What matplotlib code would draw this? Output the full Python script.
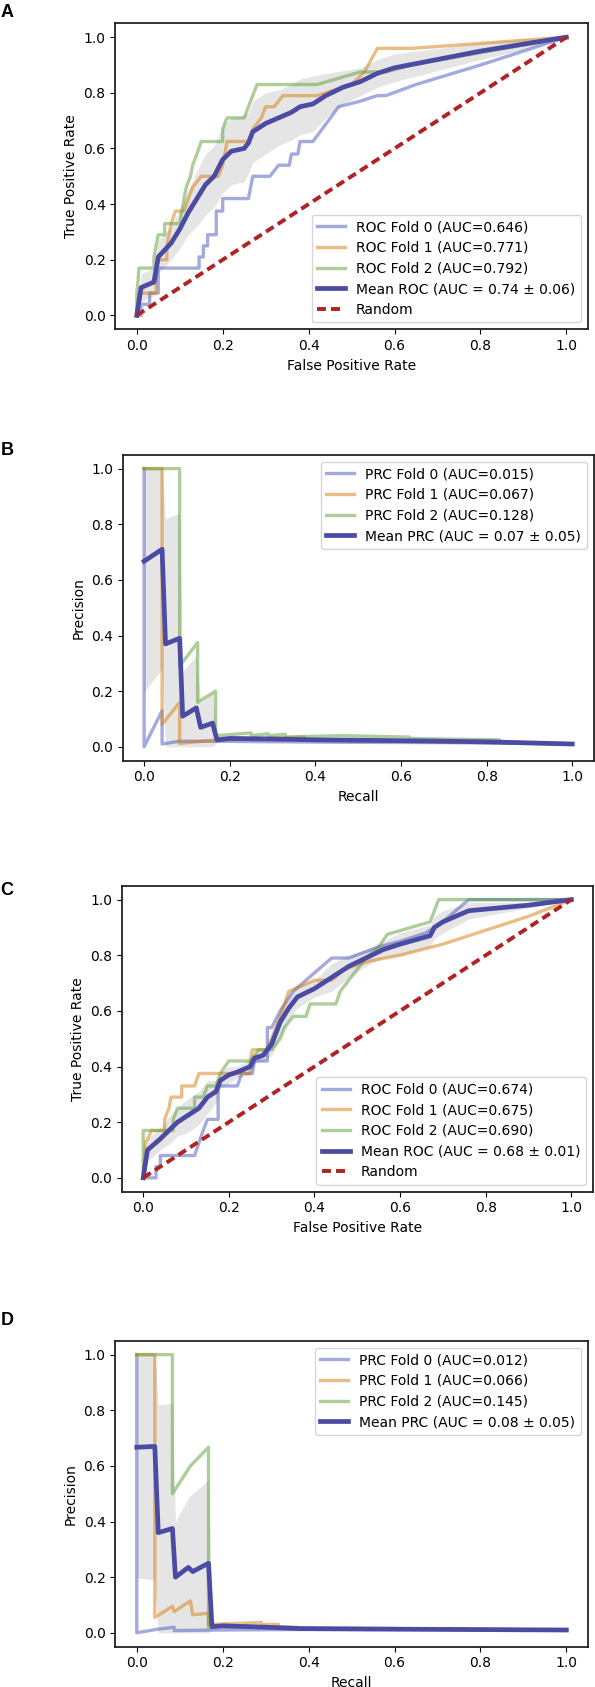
#!/usr/bin/env python3
"""ROC / PRC cross-validation curves, panels A-D."""
import matplotlib
matplotlib.use('Agg')
import matplotlib.pyplot as plt
import numpy as np

W, H = 595, 1687

FOLD_COLORS = ['#4959bf', '#d97d0f', '#5d9f37']
MEAN_COLOR = '#4b4ba3'
RANDOM_COLOR = '#b22222'

# ---- Panel A: ROC, dataset 1 ----
a_fold0 = [(0, 0), (0.01, 0), (0.01, 0.04), (0.03, 0.04), (0.03, 0.08), (0.05, 0.08), (0.05, 0.17),
           (0.145, 0.17), (0.145, 0.21), (0.155, 0.21), (0.155, 0.25), (0.165, 0.25), (0.165, 0.29),
           (0.185, 0.29), (0.185, 0.375), (0.2, 0.375), (0.2, 0.42), (0.26, 0.42), (0.27, 0.5),
           (0.31, 0.5), (0.33, 0.54), (0.355, 0.54), (0.36, 0.58), (0.375, 0.58), (0.38, 0.625),
           (0.41, 0.625), (0.47, 0.75), (0.52, 0.77), (0.56, 0.79), (0.58, 0.79), (0.65, 0.83),
           (0.8, 0.9), (1, 1)]
a_fold1 = [(0, 0), (0.005, 0.08), (0.045, 0.08), (0.045, 0.17), (0.05, 0.2), (0.07, 0.2), (0.07, 0.25),
           (0.075, 0.29), (0.08, 0.33), (0.09, 0.375), (0.11, 0.375), (0.12, 0.42), (0.13, 0.46),
           (0.15, 0.5), (0.19, 0.5), (0.2, 0.54), (0.205, 0.58), (0.21, 0.625), (0.26, 0.625),
           (0.27, 0.67), (0.29, 0.71), (0.3, 0.75), (0.32, 0.75), (0.34, 0.79), (0.42, 0.79),
           (0.5, 0.83), (0.53, 0.875), (0.56, 0.96), (0.64, 0.96), (1, 1)]
a_fold2 = [(0, 0), (0, 0.08), (0.003, 0.125), (0.005, 0.17), (0.04, 0.17), (0.04, 0.21), (0.045, 0.25),
           (0.05, 0.29), (0.065, 0.29), (0.065, 0.33), (0.1, 0.33), (0.105, 0.375), (0.11, 0.42),
           (0.115, 0.46), (0.125, 0.5), (0.13, 0.54), (0.14, 0.58), (0.15, 0.625), (0.2, 0.625),
           (0.2, 0.67), (0.21, 0.71), (0.25, 0.71), (0.26, 0.75), (0.27, 0.79), (0.28, 0.83),
           (0.42, 0.83), (0.52, 0.875), (0.58, 0.875), (0.64, 0.9), (1, 1)]
a_mean_x = [0, 0.01, 0.04, 0.05, 0.08, 0.1, 0.12, 0.14, 0.16, 0.18, 0.2, 0.22, 0.25, 0.26, 0.27, 0.3,
            0.33, 0.36, 0.38, 0.41, 0.44, 0.48, 0.52, 0.56, 0.6, 0.7, 0.8, 0.9, 1.0]
a_mean_y = [0, 0.1, 0.12, 0.21, 0.26, 0.31, 0.37, 0.42, 0.47, 0.5, 0.56, 0.59, 0.6, 0.62, 0.66, 0.69,
            0.71, 0.73, 0.75, 0.76, 0.79, 0.82, 0.84, 0.87, 0.89, 0.92, 0.95, 0.975, 1.0]
a_std = [0, 0.05, 0.05, 0.06, 0.06, 0.07, 0.08, 0.1, 0.11, 0.11, 0.12, 0.12, 0.12, 0.11, 0.11, 0.11,
         0.1, 0.1, 0.1, 0.1, 0.08, 0.06, 0.05, 0.05, 0.05, 0.04, 0.03, 0.02, 0]
a_labels = ['ROC Fold 0 (AUC=0.646)', 'ROC Fold 1 (AUC=0.771)', 'ROC Fold 2 (AUC=0.792)',
            'Mean ROC (AUC = 0.74 ± 0.06)']

# ---- Panel B: PRC, dataset 1 ----
b_fold0 = [(0, 1), (0, 0), (0.042, 0.13), (0.042, 0.01), (0.083, 0.02), (0.17, 0.02), (0.3, 0.018),
           (0.5, 0.016), (0.7, 0.015), (1, 0.01)]
b_fold1 = [(0, 1), (0.042, 1), (0.042, 0.08), (0.083, 0.16), (0.083, 0.012), (0.17, 0.025), (0.25, 0.03),
           (0.375, 0.035), (0.375, 0.025), (0.6, 0.02), (1, 0.01)]
b_fold2 = [(0, 1), (0.083, 1), (0.083, 0.29), (0.125, 0.375), (0.125, 0.16), (0.167, 0.2), (0.167, 0.04),
           (0.21, 0.045), (0.25, 0.05), (0.25, 0.04), (0.29, 0.047), (0.29, 0.04), (0.33, 0.045),
           (0.33, 0.035), (0.46, 0.04), (0.62, 0.035), (0.62, 0.03), (0.83, 0.025), (0.83, 0.015), (1, 0.01)]
b_mean_x = [0, 0.042, 0.05, 0.083, 0.09, 0.122, 0.132, 0.16, 0.17, 0.2, 0.3, 0.4, 0.6, 0.8, 1.0]
b_mean_y = [0.667, 0.71, 0.37, 0.39, 0.11, 0.14, 0.07, 0.085, 0.025, 0.03, 0.028, 0.025, 0.022, 0.018, 0.01]
b_std = [0.47, 0.43, 0.45, 0.45, 0.16, 0.19, 0.09, 0.11, 0.01, 0.01, 0.008, 0.008, 0.007, 0.005, 0.002]
b_labels = ['PRC Fold 0 (AUC=0.015)', 'PRC Fold 1 (AUC=0.067)', 'PRC Fold 2 (AUC=0.128)',
            'Mean PRC (AUC = 0.07 ± 0.05)']

# ---- Panel C: ROC, dataset 2 ----
c_fold0 = [(0, 0), (0.03, 0), (0.03, 0.04), (0.04, 0.04), (0.04, 0.08), (0.12, 0.08), (0.13, 0.125),
           (0.14, 0.17), (0.15, 0.21), (0.175, 0.21), (0.175, 0.33), (0.22, 0.33), (0.23, 0.375),
           (0.255, 0.375), (0.26, 0.42), (0.29, 0.42), (0.29, 0.54), (0.3, 0.54), (0.32, 0.6),
           (0.35, 0.67), (0.38, 0.71), (0.41, 0.75), (0.44, 0.79), (0.48, 0.79), (0.55, 0.83),
           (0.6, 0.85), (0.66, 0.88), (0.7, 0.92), (0.76, 1.0), (1, 1)]
c_fold1 = [(0, 0), (0.005, 0.125), (0.02, 0.17), (0.05, 0.17), (0.05, 0.21), (0.06, 0.25), (0.065, 0.29),
           (0.09, 0.29), (0.09, 0.33), (0.12, 0.33), (0.13, 0.375), (0.25, 0.375), (0.25, 0.42),
           (0.255, 0.46), (0.29, 0.46), (0.3, 0.5), (0.32, 0.58), (0.34, 0.67), (0.4, 0.71), (0.44, 0.71),
           (0.47, 0.75), (0.53, 0.78), (0.6, 0.8), (0.7, 0.84), (0.8, 0.89), (0.9, 0.94), (1, 1)]
c_fold2 = [(0, 0), (0, 0.17), (0.07, 0.17), (0.07, 0.21), (0.08, 0.25), (0.12, 0.25), (0.12, 0.29),
           (0.14, 0.29), (0.15, 0.33), (0.17, 0.33), (0.18, 0.375), (0.2, 0.42), (0.25, 0.42),
           (0.27, 0.46), (0.3, 0.46), (0.32, 0.5), (0.33, 0.54), (0.35, 0.58), (0.38, 0.58),
           (0.39, 0.625), (0.45, 0.625), (0.46, 0.67), (0.48, 0.71), (0.5, 0.75), (0.52, 0.79),
           (0.55, 0.83), (0.57, 0.875), (0.67, 0.92), (0.69, 1.0), (1, 1)]
c_mean_x = [0, 0.01, 0.04, 0.06, 0.08, 0.1, 0.13, 0.15, 0.17, 0.18, 0.2, 0.22, 0.25, 0.26, 0.28, 0.3,
            0.32, 0.34, 0.36, 0.4, 0.44, 0.48, 0.52, 0.56, 0.6, 0.67, 0.68, 0.7, 0.76, 0.9, 1.0]
c_mean_y = [0, 0.1, 0.14, 0.17, 0.2, 0.22, 0.25, 0.29, 0.31, 0.35, 0.37, 0.38, 0.4, 0.43, 0.44, 0.48,
            0.56, 0.61, 0.65, 0.68, 0.72, 0.76, 0.79, 0.82, 0.84, 0.87, 0.9, 0.92, 0.96, 0.98, 1.0]
c_std = [0, 0.04, 0.04, 0.05, 0.05, 0.06, 0.06, 0.06, 0.04, 0.03, 0.03, 0.02, 0.03, 0.02, 0.02, 0.04,
         0.05, 0.04, 0.04, 0.03, 0.05, 0.04, 0.03, 0.03, 0.04, 0.04, 0.04, 0.04, 0.03, 0.01, 0]
c_labels = ['ROC Fold 0 (AUC=0.674)', 'ROC Fold 1 (AUC=0.675)', 'ROC Fold 2 (AUC=0.690)',
            'Mean ROC (AUC = 0.68 ± 0.01)']

# ---- Panel D: PRC, dataset 2 ----
d_fold0 = [(0, 1), (0, 0), (0.045, 0.012), (0.087, 0.02), (0.087, 0.008), (0.2, 0.01), (0.4, 0.012),
           (0.7, 0.012), (1, 0.01)]
d_fold1 = [(0, 1), (0.042, 1), (0.042, 0.055), (0.083, 0.095), (0.087, 0.076), (0.125, 0.115),
           (0.13, 0.065), (0.167, 0.07), (0.167, 0.03), (0.29, 0.037), (0.29, 0.03), (0.33, 0.03),
           (0.33, 0.02), (0.375, 0.02), (0.375, 0.015), (1, 0.01)]
d_fold2 = [(0, 1), (0.083, 1), (0.083, 0.5), (0.125, 0.6), (0.167, 0.667), (0.167, 0.02), (0.25, 0.025),
           (0.38, 0.018), (1, 0.01)]
d_mean_x = [0, 0.042, 0.05, 0.083, 0.09, 0.12, 0.13, 0.167, 0.175, 0.2, 0.3, 0.38, 0.6, 1.0]
d_mean_y = [0.667, 0.67, 0.36, 0.375, 0.2, 0.235, 0.22, 0.25, 0.022, 0.025, 0.02, 0.015, 0.013, 0.01]
d_std = [0.47, 0.48, 0.46, 0.45, 0.2, 0.25, 0.28, 0.3, 0.01, 0.01, 0.006, 0.004, 0.003, 0.002]
d_labels = ['PRC Fold 0 (AUC=0.012)', 'PRC Fold 1 (AUC=0.066)', 'PRC Fold 2 (AUC=0.145)',
            'Mean PRC (AUC = 0.08 ± 0.05)']

plt.rcParams['font.size'] = 10

fig = plt.figure(figsize=(W / 100, H / 100), dpi=100)


def add_ax(left, top, width, height):
    return fig.add_axes([left / W, (H - top - height) / H, width / W, height / H])


def draw_panel(ax, folds, mx, my, sd, labels, roc, loc):
    for pts, c, lab in zip(folds, FOLD_COLORS, labels[:3]):
        xs, ys = zip(*pts)
        ax.plot(xs, ys, color=c, lw=2.4, alpha=0.5, label=lab)
    ax.plot(mx, my, color=MEAN_COLOR, lw=3.4, label=labels[3])
    if roc:
        ax.plot([0, 1], [0, 1], color=RANDOM_COLOR, lw=2.8, linestyle=(0, (2.3, 1.3)), label='Random')
    mx = np.array(mx)
    my = np.array(my)
    sd = np.array(sd)
    ax.fill_between(mx, np.maximum(my - sd, 0), np.minimum(my + sd, 1), color='grey', alpha=0.2, lw=0)
    ax.set_xlim(-0.05, 1.05)
    ax.set_ylim(-0.05, 1.05)
    ax.set_xticks(np.arange(0, 1.01, 0.2))
    ax.set_yticks(np.arange(0, 1.01, 0.2))
    if roc:
        ax.set_xlabel('False Positive Rate')
        ax.set_ylabel('True Positive Rate')
    else:
        ax.set_xlabel('Recall')
        ax.set_ylabel('Precision')
    for s in ax.spines.values():
        s.set_linewidth(1.3)
        s.set_color('#222222')
    ax.legend(loc=loc, fontsize=10, labelspacing=0.48)


axA = add_ax(115.3, 23.3, 472.5, 306)
draw_panel(axA, [a_fold0, a_fold1, a_fold2], a_mean_x, a_mean_y, a_std, a_labels, True, 'lower right')
axB = add_ax(122.7, 454.7, 471, 306)
draw_panel(axB, [b_fold0, b_fold1, b_fold2], b_mean_x, b_mean_y, b_std, b_labels, False, 'upper right')
axC = add_ax(121.8, 885.7, 471, 306)
draw_panel(axC, [c_fold0, c_fold1, c_fold2], c_mean_x, c_mean_y, c_std, c_labels, True, 'lower right')
axD = add_ax(115.3, 1340.7, 472.5, 306)
draw_panel(axD, [d_fold0, d_fold1, d_fold2], d_mean_x, d_mean_y, d_std, d_labels, False, 'upper right')

# panel letters
for letter, ytop in [('A', 4), ('B', 442), ('C', 882), ('D', 1312)]:
    fig.text(0.5 / W, 1 - ytop / H, letter, fontsize=13, fontweight='bold', family='Liberation Sans',
             va='top', ha='left')

fig.savefig('out.png', dpi=100)
print("saved")
